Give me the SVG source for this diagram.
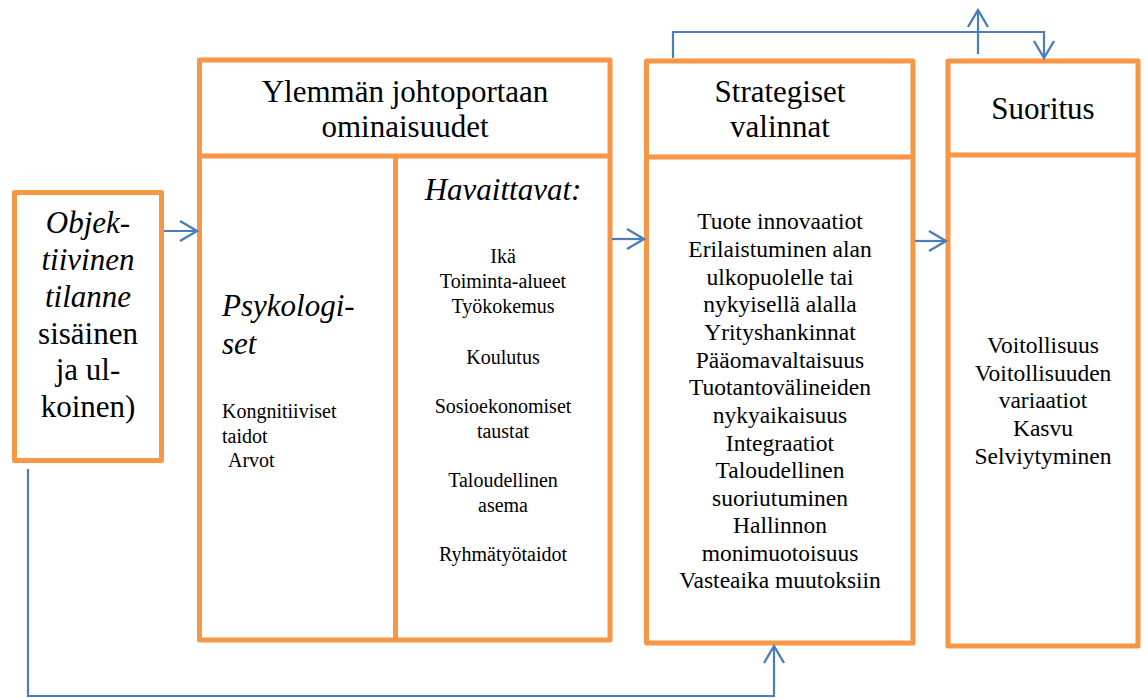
<svg xmlns="http://www.w3.org/2000/svg" width="1147" height="698" viewBox="0 0 1147 698" font-family="Liberation Serif, Tinos, DejaVu Serif, serif">
  <style>
    .box { fill: #ffffff; stroke: #F79646; stroke-width: 5; stroke-linejoin: round; }
    .div { stroke: #F79646; stroke-width: 5; }
    .link { fill: none; stroke: #4A7EBB; stroke-width: 2.2; }
    text { font-family: 'Liberation Serif', Tinos, 'DejaVu Serif', serif; fill: #000000; }
    .big { font-size: 31px; }
    .mid { font-size: 23.5px; }
    .small { font-size: 20px; }
    .it { font-style: italic; }
    .c { text-anchor: middle; }
  </style>
  <defs>
    <marker id="open" markerUnits="userSpaceOnUse" markerWidth="24" markerHeight="24" viewBox="-20 -12 22 24" refX="0" refY="0" orient="auto">
      <path d="M -17 -10 L 0 0 L -17 10" fill="none" stroke="#4A7EBB" stroke-width="2.4"/>
    </marker>
  </defs>

  <!-- Objective situation -->
  <g id="tilanne">
    <rect class="box" x="14.5" y="192.5" width="147" height="268"/>
    <text class="big it c" x="88" y="233">Objek-</text>
    <text class="big it c" x="88" y="270">tiivinen</text>
    <text class="big it c" x="88" y="307">tilanne</text>
    <text class="big c" x="88" y="344">sisäinen</text>
    <text class="big c" x="88" y="380">ja ul-</text>
    <text class="big c" x="88" y="417">koinen)</text>
  </g>

  <!-- Upper echelon characteristics -->
  <g id="johtoporras">
    <rect class="box" x="199.5" y="60" width="410.5" height="580"/>
    <line class="div" x1="199.5" y1="156" x2="610" y2="156"/>
    <line class="div" x1="395.5" y1="156" x2="395.5" y2="640"/>
    <text class="big c" x="405" y="102">Ylemmän johtoportaan</text>
    <text class="big c" x="405" y="137">ominaisuudet</text>

    <text class="big it" x="222" y="316">Psykologi-</text>
    <text class="big it" x="222" y="354">set</text>
    <text class="small" x="222" y="418">Kongnitiiviset</text>
    <text class="small" x="222" y="443">taidot</text>
    <text class="small" x="228" y="467">Arvot</text>

    <text class="big it c" x="503" y="200">Havaittavat:</text>
    <text class="small c" x="503" y="263">Ikä</text>
    <text class="small c" x="503" y="288">Toiminta-alueet</text>
    <text class="small c" x="503" y="313">Työkokemus</text>
    <text class="small c" x="503" y="364">Koulutus</text>
    <text class="small c" x="503" y="413">Sosioekonomiset</text>
    <text class="small c" x="503" y="438">taustat</text>
    <text class="small c" x="503" y="487">Taloudellinen</text>
    <text class="small c" x="503" y="512">asema</text>
    <text class="small c" x="503" y="561">Ryhmätyötaidot</text>
  </g>

  <!-- Strategic choices -->
  <g id="strategiset">
    <rect class="box" x="646.5" y="61" width="266.5" height="582"/>
    <line class="div" x1="646.5" y1="157" x2="913" y2="157"/>
    <text class="big c" x="780" y="102">Strategiset</text>
    <text class="big c" x="780" y="137">valinnat</text>
    <text class="mid c" x="780" y="229">Tuote innovaatiot</text>
    <text class="mid c" x="780" y="257">Erilaistuminen alan</text>
    <text class="mid c" x="780" y="285">ulkopuolelle tai</text>
    <text class="mid c" x="780" y="312">nykyisellä alalla</text>
    <text class="mid c" x="780" y="340">Yrityshankinnat</text>
    <text class="mid c" x="780" y="368">Pääomavaltaisuus</text>
    <text class="mid c" x="780" y="395">Tuotantovälineiden</text>
    <text class="mid c" x="780" y="423">nykyaikaisuus</text>
    <text class="mid c" x="780" y="451">Integraatiot</text>
    <text class="mid c" x="780" y="478">Taloudellinen</text>
    <text class="mid c" x="780" y="506">suoriutuminen</text>
    <text class="mid c" x="780" y="533">Hallinnon</text>
    <text class="mid c" x="780" y="561">monimuotoisuus</text>
    <text class="mid c" x="780" y="588">Vasteaika muutoksiin</text>
  </g>

  <!-- Performance -->
  <g id="suoritus">
    <rect class="box" x="948" y="61" width="190" height="585"/>
    <line class="div" x1="948" y1="155" x2="1138" y2="155"/>
    <text class="big c" x="1043" y="119">Suoritus</text>
    <text class="mid c" x="1043" y="353">Voitollisuus</text>
    <text class="mid c" x="1043" y="381">Voitollisuuden</text>
    <text class="mid c" x="1043" y="408">variaatiot</text>
    <text class="mid c" x="1043" y="436">Kasvu</text>
    <text class="mid c" x="1043" y="464">Selviytyminen</text>
  </g>

  <!-- Connectors -->
  <g id="connectors">
    <line class="link" x1="164" y1="231" x2="197" y2="231" marker-end="url(#open)"/>
    <line class="link" x1="612" y1="239" x2="644" y2="239" marker-end="url(#open)"/>
    <line class="link" x1="915" y1="241" x2="946" y2="241" marker-end="url(#open)"/>
    <polyline class="link" points="673,58 673,32 1044,32 1044,58" marker-end="url(#open)"/>
    <line class="link" x1="978" y1="54" x2="978" y2="10" marker-end="url(#open)"/>
    <polyline class="link" points="28,469 28,696 774,696 774,646" marker-end="url(#open)"/>
  </g>
</svg>
